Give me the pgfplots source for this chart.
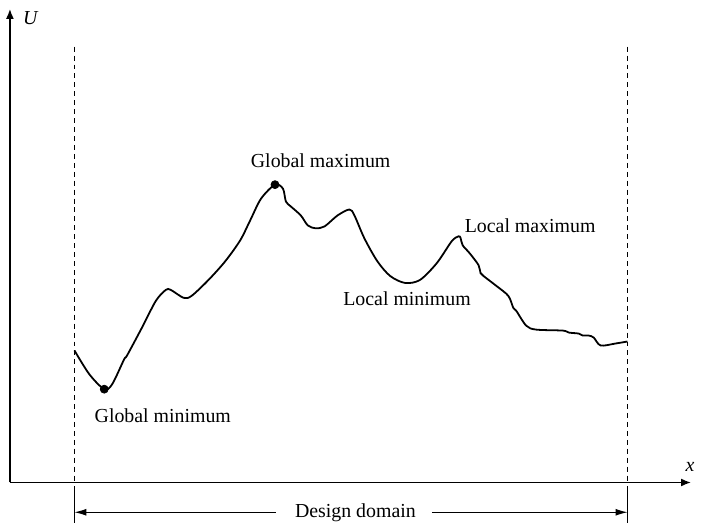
\documentclass[border=0pt]{standalone}
\usepackage{fontspec}
\setmainfont{Liberation Serif}
\usepackage{pgfplots}
\pgfplotsset{compat=1.18}
\usetikzlibrary{arrows.meta}
\begin{document}
\begin{tikzpicture}
\begin{axis}[
  x=0.5pt, y=0.5pt,
  xmin=0, xmax=686, ymin=0, ymax=477,
  axis x line=bottom, axis y line=left,
  axis line style={line width=0.75pt, -{Latex[length=5pt,width=4pt]}},
  xtick=\empty, ytick=\empty,
  clip=false,
  every node/.append style={font=\fontsize{9.6}{11}\selectfont},
]
\path (axis cs:-10,-42) rectangle (axis cs:691,486);
% dashed domain borders
\addplot[black, line width=0.5pt, dash pattern=on 2.5pt off 2pt] coordinates {(65,439) (65,0)};
\addplot[black, line width=0.5pt, dash pattern=on 2.5pt off 2pt] coordinates {(622,439) (622,0)};
\addplot[black, line width=0.5pt] coordinates {(65,-4) (65,-41)};
\addplot[black, line width=0.5pt] coordinates {(622,-4) (622,-41)};
% design domain arrows
\addplot[black, line width=0.5pt, -{Latex[length=6pt,width=3.5pt]}] coordinates {(268,-30) (65,-30)};
\addplot[black, line width=0.5pt, -{Latex[length=6pt,width=3.5pt]}] coordinates {(425,-30) (622,-30)};
\node at (axis cs:348,-30) {Design domain};
% curve
\addplot[black, line width=0.9pt, smooth, tension=0.5] coordinates {
(65,133) (80,109) (95,94) (103,99) (115,124) (118,128) (133,156) (147,183)
(157,194) (162,194) (175,186) (183,188) (200,204) (217,223) (232,244) (242,264)
(253,286) (267,300) (275,296) (278,283) (283,278) (293,269) (300,259) (308,256)
(317,258) (330,269) (342,275) (347,269) (357,246) (370,223) (383,208) (398,201)
(413,204) (430,221) (445,243) (452,248) (454,246) (456,239) (463,231) (472,219)
(474,211) (477,208) (490,198) (502,188) (507,176) (510,173) (520,158) (530,154)
(557,153) (563,151) (573,150) (577,148) (583,148) (588,146) (595,138) (610,140) (622,142)
};
\addplot[only marks, mark=*, mark size=2pt, black] coordinates {(95,94) (267,300)};
% labels
\node at (axis cs:313,324) {Global maximum};
\node at (axis cs:154,67) {Global minimum};
\node at (axis cs:524,259) {Local maximum};
\node at (axis cs:400,185) {Local minimum};
\node at (axis cs:21,468) {\textit{U}};
\node at (axis cs:685,16) {\textit{x}};
\end{axis}
\end{tikzpicture}
\end{document}
